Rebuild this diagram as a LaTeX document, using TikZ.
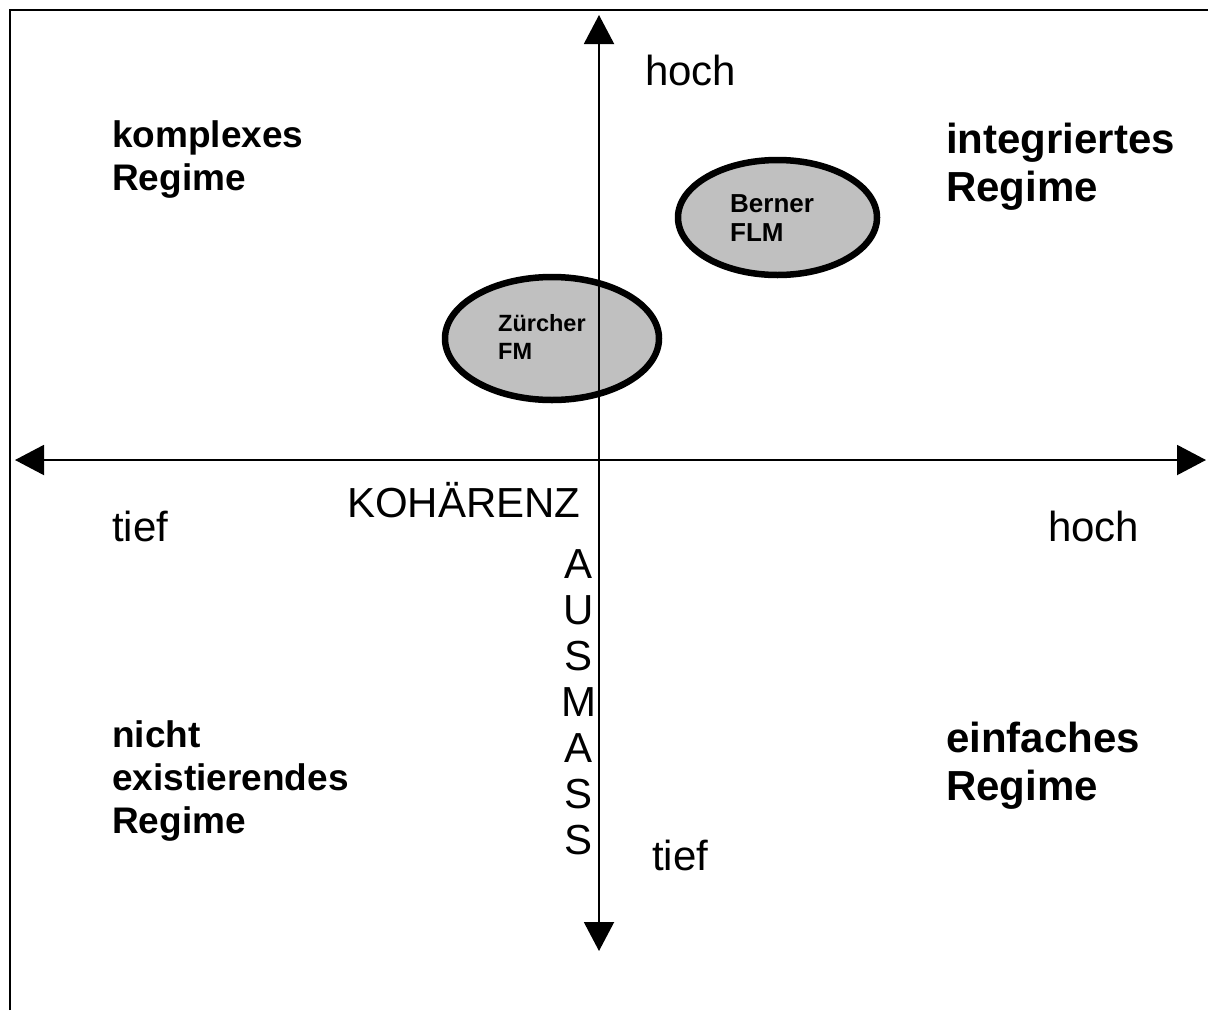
\documentclass[tikz,border=0pt]{standalone}
\usepackage{fontspec}
\setmainfont{Liberation Sans}
\usetikzlibrary{arrows.meta,shapes.geometric}
\begin{document}
\begin{tikzpicture}[x=1pt,y=-1pt,
  axis/.style={line width=2pt,{Triangle[length=29pt,width=30pt]}-{Triangle[length=29pt,width=30pt]}},
  frame/.style={line width=2.2pt},
  blob/.style={ellipse,draw,line width=6.5pt,fill={rgb,255:red,192;green,192;blue,192},inner sep=0pt},
  reglabel/.style={anchor=base west,inner sep=0pt,font=\fontsize{42}{46}\selectfont},
  bigbold/.style={anchor=base west,inner sep=0pt,align=left,font=\bfseries\fontsize{42}{48}\selectfont},
  midbold/.style={anchor=base west,inner sep=0pt,align=left,font=\bfseries\fontsize{37}{43}\selectfont},
  smallbold/.style={anchor=base west,inner sep=0pt,align=left,font=\bfseries\fontsize{23.5}{28}\selectfont}]
\useasboundingbox (0,0) rectangle (1208,1010);
% frame
\coordinate (fbl) at (10,1010);
\coordinate (ftl) at (10,10);
\coordinate (ftr) at (1208,10);
\draw[frame] (fbl) -- (ftl) -- (ftr);
% ellipses
\node[blob,minimum width=214pt,minimum height=123pt] (zue) at (552,338.5) {};
\node[blob,minimum width=199pt,minimum height=115pt] (bee) at (777.5,217.5) {};
% axes
\coordinate (vtop) at (599,15);
\coordinate (vbot) at (599,951);
\coordinate (hleft) at (15,460);
\coordinate (hright) at (1206,460);
\draw[axis] (vtop) -- (vbot);
\draw[axis] (hleft) -- (hright);
% ellipse texts (base anchor = last line)
\node[smallbold] (zut) at (498,359) {Zürcher\\FM};
\node[smallbold,font=\bfseries\fontsize{26}{29}\selectfont] (bet) at (730,241) {Berner\\FLM};
% axis labels
\node[reglabel] (hochv) at (645,85) {hoch};
\node[reglabel] (tiefv) at (652,870) {tief};
\node[reglabel] (tiefh) at (112,541) {tief};
\node[reglabel] (hochh) at (1048,541) {hoch};
\node[reglabel] (koh) at (347,517) {KOHÄRENZ};
\node[anchor=base,inner sep=0pt,align=center,font=\fontsize{42}{46}\selectfont] (aus) at (579,854) {A\\U\\S\\M\\A\\S\\S};
% regimes
\node[midbold] (kompl) at (112,190) {komplexes\\Regime};
\node[bigbold] (integ) at (946,201) {integriertes\\Regime};
\node[midbold] (nicht) at (112,833) {nicht\\existierendes\\Regime};
\node[bigbold] (einf) at (946,800) {einfaches\\Regime};
\end{tikzpicture}
\end{document}
